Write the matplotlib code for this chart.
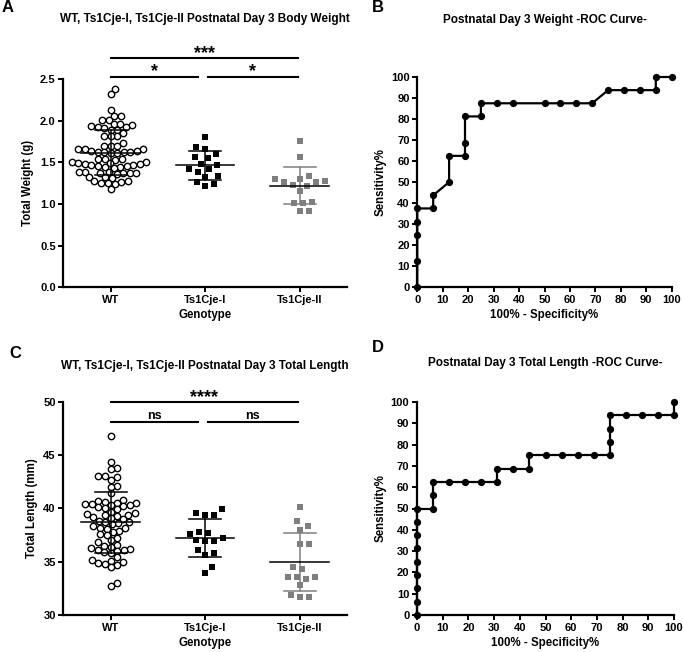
import numpy as np
import matplotlib
matplotlib.use('Agg')
from matplotlib import pyplot as plt

plt.rcParams['font.family'] = ['Liberation Sans', 'DejaVu Sans']
plt.rcParams['font.weight'] = 'bold'
plt.rcParams['axes.labelweight'] = 'bold'

# Dados
grupos = ['WT', 'Ts1Cje-I', 'Ts1Cje-II']

peso_wt = [2.38, 2.32, 2.13, 2.06, 2.05, 2.01, 2.01, 1.96, 1.96, 1.95, 1.94,
           1.92, 1.92, 1.91, 1.89, 1.89, 1.85, 1.82, 1.81, 1.81, 1.73, 1.70,
           1.70, 1.70, 1.66, 1.66, 1.66, 1.63, 1.63, 1.62, 1.62, 1.62, 1.62,
           1.61, 1.61, 1.54, 1.54, 1.54, 1.53, 1.50, 1.50, 1.49, 1.49, 1.48,
           1.48, 1.47, 1.47, 1.45, 1.45, 1.44, 1.44, 1.43, 1.38, 1.38, 1.38,
           1.37, 1.37, 1.37, 1.37, 1.36, 1.32, 1.32, 1.31, 1.27, 1.27, 1.26,
           1.25, 1.25, 1.24, 1.18]
peso_i = [1.80, 1.68, 1.66, 1.60, 1.56, 1.55, 1.48, 1.47, 1.42, 1.42, 1.38,
          1.34, 1.32, 1.26, 1.24, 1.21]
peso_ii = [1.76, 1.56, 1.33, 1.30, 1.30, 1.28, 1.26, 1.26, 1.23, 1.22, 1.16,
           1.02, 1.01, 1.01, 0.91, 0.91]

comp_wt = [46.8, 44.3, 43.8, 43.7, 43.0, 43.0, 42.9, 42.7, 42.1, 42.0, 41.4,
           40.8, 40.7, 40.6, 40.5, 40.5, 40.4, 40.4, 40.3, 40.3, 40.2, 40.1,
           40.0, 39.9, 39.7, 39.6, 39.5, 39.4, 39.4, 39.3, 39.2, 39.1, 39.0,
           38.8, 38.7, 38.7, 38.6, 38.5, 38.3, 38.2, 38.2, 38.1, 37.9, 37.8,
           37.6, 37.5, 37.2, 37.0, 36.8, 36.6, 36.5, 36.4, 36.3, 36.2, 36.1,
           36.1, 36.0, 35.9, 35.8, 35.4, 35.2, 35.1, 35.0, 34.9, 34.8, 34.7,
           34.5, 33.0, 32.7]
comp_i = [39.9, 39.6, 39.4, 39.4, 37.8, 37.7, 37.6, 37.2, 37.0, 36.9, 36.9,
          36.1, 35.8, 35.6, 34.5, 33.9]
comp_ii = [40.1, 38.8, 38.3, 38.0, 36.7, 36.7, 34.5, 34.3, 33.6, 33.6, 33.6,
           33.4, 32.8, 31.9, 31.7, 31.7]

roc_peso_x = [0, 0, 0, 0, 0, 6.25, 6.25, 12.5, 12.5, 18.75, 18.75, 18.75, 25,
              25, 31.25, 37.5, 50, 56.25, 62.5, 68.75, 75, 81.25, 87.5, 93.75,
              93.75, 100]
roc_peso_y = [0, 12.5, 25, 31.25, 37.5, 37.5, 43.75, 50, 62.5, 62.5, 68.75,
              81.25, 81.25, 87.5, 87.5, 87.5, 87.5, 87.5, 87.5, 87.5, 93.75,
              93.75, 93.75, 93.75, 100, 100]

roc_comp_x = [0, 0, 0, 0, 0, 0, 0, 0, 0, 6.25, 6.25, 6.25, 12.5, 18.75, 25,
              31.25, 31.25, 37.5, 43.75, 43.75, 50, 56.25, 62.5, 68.75, 75, 75,
              75, 75, 81.25, 87.5, 93.75, 100, 100]
roc_comp_y = [0, 6.25, 12.5, 18.75, 25, 31.25, 37.5, 43.75, 50, 50, 56.25,
              62.5, 62.5, 62.5, 62.5, 62.5, 68.75, 68.75, 68.75, 75, 75, 75, 75,
              75, 75, 81.25, 87.5, 93.75, 93.75, 93.75, 93.75, 93.75, 100]

W, H = 683, 652
fig = plt.figure(figsize=(W / 100, H / 100), dpi=100)


def eixo(x0, y0, x1, y1):
    # caixa em pixels (esquerda, topo, direita, base)
    return fig.add_axes([x0 / W, 1 - y1 / H, (x1 - x0) / W, (y1 - y0) / H])


def estilo(ax):
    for s in ['top', 'right']:
        ax.spines[s].set_visible(False)
    for s in ['left', 'bottom']:
        ax.spines[s].set_linewidth(1.6)
    ax.tick_params(direction='out', length=3.5, width=1.4, labelsize=8, pad=2)
    for t in ax.get_xticklabels() + ax.get_yticklabels():
        t.set_fontweight('bold')


def swarm(valores, px_x, px_y, d):
    # afasta os pontos na horizontal para nao se sobreporem
    valores = np.asarray(valores, dtype=float)
    ordem = np.argsort(valores)
    colocados = []
    offs = np.zeros(len(valores))
    for i in ordem:
        y = valores[i] * px_y
        k = 0
        achou = False
        while not achou:
            for s in ([0] if k == 0 else [k, -k]):
                x = s * 0.5
                if all((x - xx) ** 2 + (y - yy) ** 2 >= d * d for xx, yy in colocados):
                    colocados.append((x, y))
                    offs[i] = x / px_x
                    achou = True
                    break
            k += 1
    return offs


def dispersao(ax, dados, px_y, titulo_y):
    px_x = 94.0
    cores = ['black', 'black', '#7f7f7f']
    for c, vals in enumerate(dados):
        pos = c + 1
        if c == 0:
            offs = swarm(vals, px_x, px_y, 6.4)
            ax.plot(pos + offs, vals, 'o', mfc='white', mec='black', ms=4.6,
                    mew=1.0, zorder=2, clip_on=False)
        else:
            offs = swarm(vals, px_x, px_y, 9.0)
            ax.plot(pos + offs, vals, 's', color=cores[c], ms=3.8, mew=0,
                    zorder=2, clip_on=False)
        m = np.mean(vals)
        s = np.std(vals, ddof=1)
        ax.plot([pos, pos], [m - s, m + s], color=cores[c], lw=1.1, zorder=3)
        for yy in [m - s, m + s]:
            ax.plot([pos - 0.17, pos + 0.17], [yy, yy], color=cores[c], lw=1.1, zorder=3)
        ax.plot([pos - 0.31, pos + 0.31], [m, m], color='black', lw=1.1, zorder=4)
    ax.set_xlim(0.5, 3.5)
    ax.set_xticks([1, 2, 3])
    ax.set_xticklabels(grupos)
    ax.set_xlabel('Genotype', fontsize=8.3, labelpad=3)
    ax.set_ylabel(titulo_y, fontsize=8.3, labelpad=4)


def signif(ax, x1, x2, y, txt, tam, dy):
    ax.plot([x1, x2], [y, y], color='black', lw=1.5, clip_on=False)
    ax.annotate(txt, xy=((x1 + x2) / 2, y), xytext=(0, dy),
                textcoords='offset points', ha='center', va='bottom',
                fontsize=tam, fontweight='bold', annotation_clip=False)


def roc(ax, xs, ys):
    ax.plot(xs, ys, '-o', color='black', lw=1.6, ms=4.2, clip_on=False, zorder=3)
    ax.set_xlim(0, 100)
    ax.set_ylim(0, 100)
    ax.set_xticks(range(0, 101, 10))
    ax.set_yticks(range(0, 101, 10))
    ax.set_xlabel('100% - Specificity%', fontsize=8.3, labelpad=3)
    ax.set_ylabel('Sensitivity%', fontsize=8.3, labelpad=3)


# A
axA = eixo(63.3, 79, 347, 287.3)
dispersao(axA, [peso_wt, peso_i, peso_ii], 83.3, 'Total Weight (g)')
axA.set_ylim(0, 2.5)
axA.set_yticks(np.arange(0, 2.51, 0.5))
axA.set_yticklabels(['%.1f' % v for v in np.arange(0, 2.51, 0.5)])
signif(axA, 1.0, 2.98, 2.75, '***', 13, -3)
signif(axA, 1.0, 1.92, 2.52, '*', 13, -2)
signif(axA, 2.03, 2.98, 2.52, '*', 13, -2)
estilo(axA)

# B
axB = eixo(417.3, 77, 671.7, 287.3)
roc(axB, roc_peso_x, roc_peso_y)
estilo(axB)

# C
axC = eixo(63.3, 401.7, 347, 615)
dispersao(axC, [comp_wt, comp_i, comp_ii], 10.667, 'Total Length (mm)')
axC.set_ylim(30, 50)
axC.set_yticks([30, 35, 40, 45, 50])
signif(axC, 1.0, 2.98, 50.0, '****', 13, -3)
signif(axC, 1.0, 1.92, 48.1, 'ns', 9, 0)
signif(axC, 2.03, 2.98, 48.1, 'ns', 9, 0)
estilo(axC)

# D
axD = eixo(417, 402, 674, 615)
roc(axD, roc_comp_x, roc_comp_y)
estilo(axD)


# titulos e letras
def texto(x, y, s, tam):
    fig.text(x / W, 1 - y / H, s, ha='center', va='center', fontsize=tam,
             fontweight='bold')


texto(205, 19, 'WT, Ts1Cje-I, Ts1Cje-II Postnatal Day 3 Body Weight', 8.5)
texto(545, 20, 'Postnatal Day 3 Weight -ROC Curve-', 8.5)
texto(205, 366, 'WT, Ts1Cje-I, Ts1Cje-II Postnatal Day 3 Total Length', 8.5)
texto(545, 363, 'Postnatal Day 3 Total Length -ROC Curve-', 8.5)
fig.text(2 / W, 1 - 7 / H, 'A', fontsize=12, fontweight='bold', va='center')
fig.text(372 / W, 1 - 8 / H, 'B', fontsize=12, fontweight='bold', va='center')
fig.text(9 / W, 1 - 353 / H, 'C', fontsize=12, fontweight='bold', va='center')
fig.text(372 / W, 1 - 348 / H, 'D', fontsize=12, fontweight='bold', va='center')

plt.savefig('out.png', dpi=100)
